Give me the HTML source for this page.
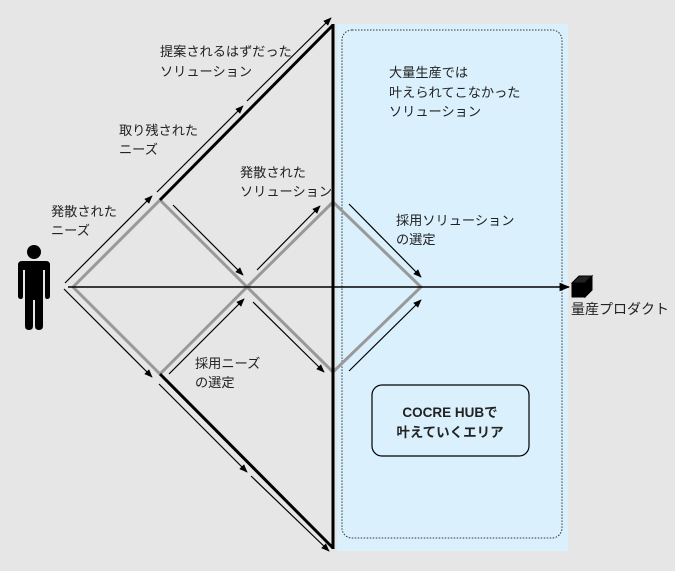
<!DOCTYPE html>
<html><head><meta charset="utf-8"><style>
html,body{margin:0;padding:0;background:#e6e6e6;}
svg{display:block;}
text{font-family:"Liberation Sans","Noto Sans CJK JP",sans-serif;font-size:13.2px;fill:#222;}
</style></head><body>
<svg width="675" height="571" viewBox="0 0 675 571" xmlns="http://www.w3.org/2000/svg">
<defs>
<marker id="a" viewBox="0 0 10 10" refX="9" refY="5" markerWidth="7" markerHeight="7" orient="auto"><path d="M0,1 L10,5 L0,9 z" fill="#000"/></marker>
</defs>
<rect x="0" y="0" width="675" height="571" fill="#e6e6e6"/>
<rect x="337" y="24" width="231" height="527" fill="#daf0fc"/>
<rect x="342" y="30" width="220" height="508" rx="10" fill="none" stroke="#333" stroke-width="1" stroke-dasharray="1.5,1.5"/>
<g fill="none" stroke="#999" stroke-width="3">
<path d="M73,287 L160,200 L247,287 L160,374 Z"/>
<path d="M247,287 L333,202 L421,287 L333,372 Z"/>
</g>
<g stroke="#000" stroke-width="3" fill="none">
<line x1="160" y1="200" x2="333" y2="25"/>
<line x1="160" y1="374" x2="333" y2="548"/>
<line x1="333" y1="24" x2="333" y2="549"/>
</g>
<line x1="68" y1="287" x2="569" y2="287" stroke="#000" stroke-width="1.5" marker-end="url(#a)"/>
<g stroke="#000" stroke-width="1.2" marker-end="url(#a)">
<line x1="65" y1="283" x2="152" y2="196"/>
<line x1="157" y1="192" x2="243" y2="106"/>
<line x1="247" y1="101" x2="331" y2="18"/>
<line x1="64" y1="289" x2="152" y2="377"/>
<line x1="159" y1="384" x2="247" y2="472"/>
<line x1="251" y1="476" x2="329" y2="551"/>
<line x1="173" y1="205" x2="243" y2="275"/>
<line x1="257" y1="270" x2="320" y2="206"/>
<line x1="169" y1="374" x2="244" y2="299"/>
<line x1="253" y1="302" x2="324" y2="372"/>
<line x1="349" y1="204" x2="421" y2="277"/>
<line x1="349" y1="371" x2="421" y2="300"/>
</g>
<circle cx="34" cy="252" r="7" fill="#000"/>
<path d="M22,261 H46 Q50,261 50,265 V296 Q50,299 47,299 Q45,299 45,296 V270 H43 V326 Q43,330 39,330 Q35,330 35,326 V300 H33 V326 Q33,330 29,330 Q25,330 25,326 V270 H23 V296 Q23,299 21,299 Q18,299 18,296 V265 Q18,261 22,261 Z" fill="#000"/>
<g stroke="#000" stroke-width="1">
<path d="M572,283 L579,276 L592,276 L585,283 Z" fill="#222"/>
<path d="M585,283 L592,276 L592,290 L585,297 Z" fill="#000"/>
<rect x="572" y="283" width="13" height="14" fill="#000"/>
</g>
<rect x="372" y="385" width="157" height="71" rx="10" fill="#daf0fc" stroke="#000" stroke-width="1.2"/>
<text x="450" y="417" text-anchor="middle" style="font-weight:bold;font-size:13.5px;">COCRE HUBで</text>
<text x="450" y="437" text-anchor="middle" style="font-weight:bold;font-size:13.5px;">叶えていくエリア</text>
<text x="160" y="56">提案されるはずだった</text>
<text x="160" y="76">ソリューション</text>
<text x="119" y="135">取り残された</text>
<text x="119" y="154">ニーズ</text>
<text x="51" y="216">発散された</text>
<text x="51" y="235">ニーズ</text>
<text x="240" y="177">発散された</text>
<text x="240" y="196">ソリューション</text>
<text x="389" y="77">大量生産では</text>
<text x="389" y="97">叶えられてこなかった</text>
<text x="389" y="116">ソリューション</text>
<text x="396" y="225">採用ソリューション</text>
<text x="396" y="244">の選定</text>
<text x="195" y="368">採用ニーズ</text>
<text x="195" y="387">の選定</text>
<text x="571" y="314" style="font-size:14px;">量産プロダクト</text>
</svg>
</body></html>
